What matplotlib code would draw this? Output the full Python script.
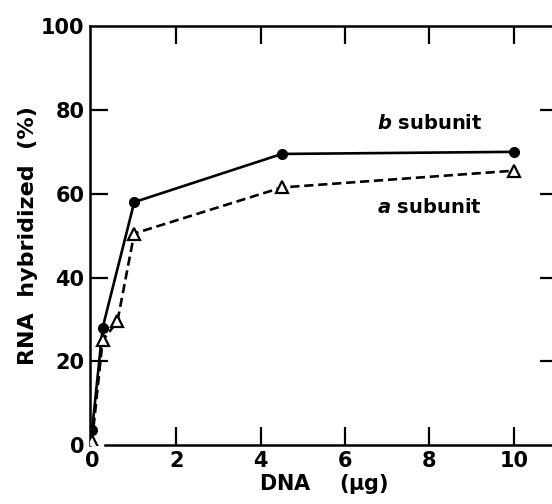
import numpy as np
import matplotlib
matplotlib.use("Agg")
import matplotlib.pyplot as plt

# data
dna_b = [0, 0.25, 1, 4.5, 10]
rna_b = [3.5, 28, 58, 69.5, 70]

dna_a = [0, 0.25, 0.6, 1, 4.5, 10]
rna_a = [1, 25, 29.5, 50.5, 61.5, 65.5]

xticks = [0, 2, 4, 6, 8, 10]
yticks = [0, 20, 40, 60, 80, 100]

plt.rcParams["font.family"] = ["DejaVu Sans"]
plt.rcParams["font.weight"] = "bold"

fig = plt.figure(figsize=(5.52, 5.04), dpi=100)
# right spine falls outside the picture, as in the scan
ax = fig.add_axes([0.163, 0.117, 0.848, 0.831])

ax.plot(dna_b, rna_b, "-", color="black", lw=1.9, marker="o", ms=7,
        mfc="black", mec="black", zorder=3)
ax.plot(dna_a, rna_a, "--", color="black", lw=1.9, dashes=(3.5, 1.8),
        marker="^", ms=9, mfc="white", mec="black", mew=1.6, zorder=3)

ax.text(8.0, 76.8, r"$\bf{\it{b}}$ subunit", fontsize=14, fontweight="bold",
        ha="center", va="center")
ax.text(8.0, 56.8, r"$\bf{\it{a}}$ subunit", fontsize=14, fontweight="bold",
        ha="center", va="center")

ax.set_xlim(-0.05, 11.05)
ax.set_ylim(0, 100)
ax.set_xticks(xticks)
ax.set_yticks(yticks)
ax.set_xticklabels([str(v) for v in xticks], fontsize=15, fontweight="bold")
ax.set_yticklabels([str(v) for v in yticks], fontsize=15, fontweight="bold")
ax.tick_params(direction="in", length=13, width=1.6, top=True, right=True, pad=4)

# no tick marks at the corners
for t in [ax.xaxis.get_major_ticks()[0], ax.yaxis.get_major_ticks()[0],
          ax.yaxis.get_major_ticks()[-1]]:
    t.tick1line.set_visible(False)
    t.tick2line.set_visible(False)

for side in ["left", "bottom", "top", "right"]:
    ax.spines[side].set_linewidth(1.8)
ax.spines["bottom"].set_bounds(0.3, 11.05)

ax.set_xlabel(r"DNA    ($\mathbf{\mu}$g)", fontsize=15, fontweight="bold", labelpad=1)
ax.set_ylabel("RNA  hybridized  (%)", fontsize=16, fontweight="bold", labelpad=2)

fig.savefig("out.png", dpi=100)
